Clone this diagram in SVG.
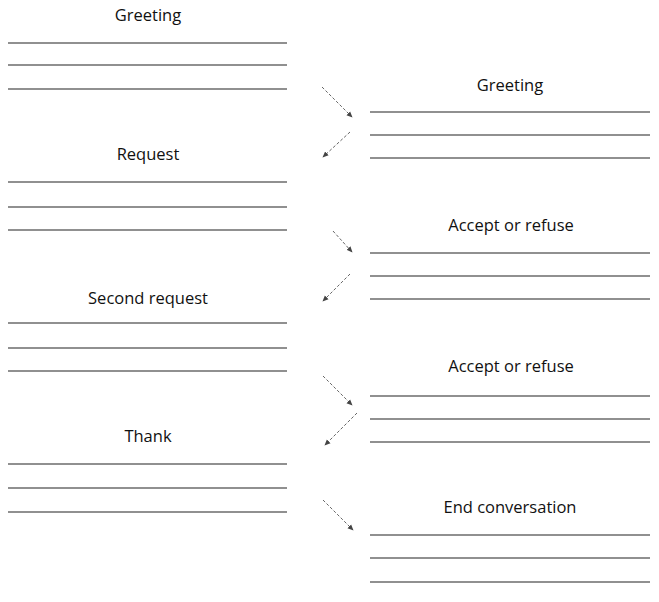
<svg xmlns="http://www.w3.org/2000/svg" width="659" height="602" viewBox="0 0 659 602">
<defs>
<style>
.t{font-family:"Open Sans","Liberation Sans",sans-serif;font-size:16.5px;fill:#111;text-anchor:middle}
.l{stroke:#222;stroke-width:1.2;fill:none}
.c{stroke:#666;stroke-width:1;stroke-dasharray:3 2;fill:none}
</style>
<marker id="ah" viewBox="0 0 8 8" refX="7" refY="4" markerWidth="6" markerHeight="6" orient="auto" markerUnits="userSpaceOnUse">
<path d="M0,0.5 L8,4 L0,7.5 z" fill="#444"/>
</marker>
</defs>
<rect width="659" height="602" fill="#fff"/>
<g id="n-greeting-left">
<text class="t" x="148" y="21">Greeting</text>
<path class="l" d="M8,43H287M8,65H287M8,89H287"/>
</g>
<g id="n-request">
<text class="t" x="148" y="160">Request</text>
<path class="l" d="M8,182H287M8,207H287M8,230H287"/>
</g>
<g id="n-second-request">
<text class="t" x="148" y="304">Second request</text>
<path class="l" d="M8,323H287M8,348H287M8,371H287"/>
</g>
<g id="n-thank">
<text class="t" x="148" y="442">Thank</text>
<path class="l" d="M8,464H287M8,488H287M8,512H287"/>
</g>
<g id="n-greeting-right">
<text class="t" x="510" y="91">Greeting</text>
<path class="l" d="M370,112H650M370,135H650M370,158H650"/>
</g>
<g id="n-accept1">
<text class="t" x="511" y="231">Accept or refuse</text>
<path class="l" d="M370,253H650M370,276H650M370,299H650"/>
</g>
<g id="n-accept2">
<text class="t" x="511" y="372">Accept or refuse</text>
<path class="l" d="M370,396H650M370,419H650M370,442H650"/>
</g>
<g id="n-end">
<text class="t" x="510" y="513">End conversation</text>
<path class="l" d="M370,535H650M370,558H650M370,582H650"/>
</g>
<g id="connectors">
<line class="c" x1="322" y1="87" x2="352" y2="117" marker-end="url(#ah)"/>
<line class="c" x1="350" y1="132" x2="323" y2="157" marker-end="url(#ah)"/>
<line class="c" x1="333" y1="231" x2="352" y2="252" marker-end="url(#ah)"/>
<line class="c" x1="350" y1="274" x2="323" y2="301" marker-end="url(#ah)"/>
<line class="c" x1="323" y1="376" x2="352" y2="405" marker-end="url(#ah)"/>
<line class="c" x1="357" y1="413" x2="325" y2="445" marker-end="url(#ah)"/>
<line class="c" x1="323" y1="500" x2="353" y2="530" marker-end="url(#ah)"/>
</g>
</svg>
